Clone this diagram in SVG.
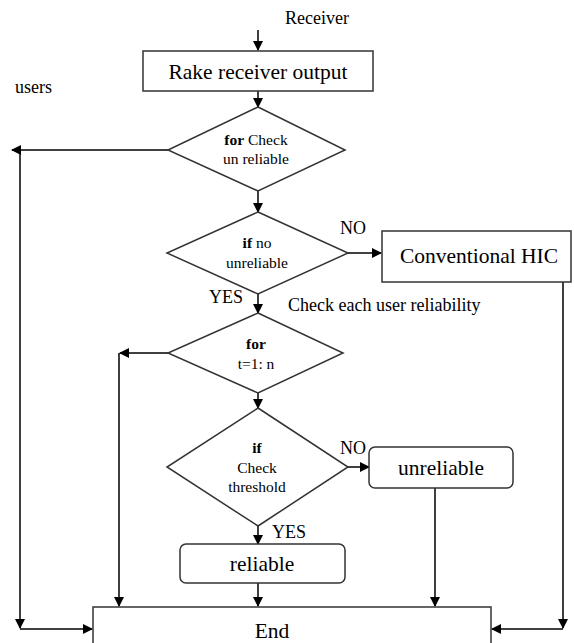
<svg xmlns="http://www.w3.org/2000/svg" width="574" height="643" viewBox="0 0 574 643">
<defs>
<marker id="ah" markerWidth="10" markerHeight="10" refX="9" refY="5" orient="auto" markerUnits="userSpaceOnUse">
<path d="M0,0 L10,5 L0,10 Z" fill="#000"/>
</marker>
<style>
.shape{fill:#fff;stroke:#333;stroke-width:1.5}
.ln{fill:none;stroke:#000;stroke-width:1.5}
text{font-family:"Liberation Serif","Times New Roman",serif;fill:#000}
.big{font-size:21.5px}
.mid{font-size:18px}
.sm{font-size:15.5px}
</style>
</defs>
<rect width="574" height="643" fill="#fff"/>
<g id="labels">
<text class="mid" x="285" y="24">Receiver</text>
<text class="mid" x="15" y="93">users</text>
<text class="mid" x="340" y="234">NO</text>
<text class="mid" x="209" y="303">YES</text>
<text class="mid" x="288" y="311">Check each user reliability</text>
<text class="mid" x="340" y="454">NO</text>
<text class="mid" x="272" y="538">YES</text>
</g>
<g id="connectors">
<line class="ln" x1="258" y1="30" x2="258" y2="50" marker-end="url(#ah)"/>
<line class="ln" x1="258" y1="91" x2="258" y2="107" marker-end="url(#ah)"/>
<polyline class="ln" points="168,150 12,150" marker-end="url(#ah)"/>
<polyline class="ln" points="20,150 20,628" marker-end="url(#ah)"/>
<polyline class="ln" points="20,629 92,629" marker-end="url(#ah)"/>
<line class="ln" x1="258" y1="191" x2="258" y2="212" marker-end="url(#ah)"/>
<line class="ln" x1="348" y1="253" x2="381" y2="253" marker-end="url(#ah)"/>
<line class="ln" x1="258" y1="294" x2="258" y2="313" marker-end="url(#ah)"/>
<polyline class="ln" points="168,353 120,353" marker-end="url(#ah)"/>
<polyline class="ln" points="119,353 119,606" marker-end="url(#ah)"/>
<line class="ln" x1="258" y1="393" x2="258" y2="408" marker-end="url(#ah)"/>
<line class="ln" x1="348" y1="467" x2="369" y2="467" marker-end="url(#ah)"/>
<line class="ln" x1="258" y1="526" x2="258" y2="544" marker-end="url(#ah)"/>
<line class="ln" x1="258" y1="583" x2="258" y2="606" marker-end="url(#ah)"/>
<line class="ln" x1="435" y1="488" x2="435" y2="606" marker-end="url(#ah)"/>
<polyline class="ln" points="563,282 563,628" marker-end="url(#ah)"/>
<polyline class="ln" points="563,629 492,629" marker-end="url(#ah)"/>
</g>
<g id="rake">
<rect class="shape" x="143" y="51" width="230" height="40"/>
<text class="big" x="258" y="79" text-anchor="middle">Rake receiver output</text>
</g>
<g id="d1">
<polygon class="shape" points="258,107 345,150 258,191 168,150"/>
<text class="sm" x="256" y="145" text-anchor="middle"><tspan font-weight="bold">for</tspan> Check</text>
<text class="sm" x="256" y="164" text-anchor="middle">un reliable</text>
</g>
<g id="d2">
<polygon class="shape" points="258,212 348,253 258,294 167,253"/>
<text class="sm" x="257" y="248" text-anchor="middle"><tspan font-weight="bold">if</tspan> no</text>
<text class="sm" x="257" y="268" text-anchor="middle">unreliable</text>
</g>
<g id="conv">
<rect class="shape" x="382" y="231" width="189" height="51"/>
<text class="big" x="479" y="263" text-anchor="middle">Conventional HIC</text>
</g>
<g id="d3">
<polygon class="shape" points="258,313 343,353 258,393 168,353"/>
<text class="sm" x="256" y="349" text-anchor="middle" font-weight="bold">for</text>
<text class="sm" x="256" y="369" text-anchor="middle">t=1: n</text>
</g>
<g id="d4">
<polygon class="shape" points="258,408 348,467 258,526 167,467"/>
<text class="sm" x="257" y="453" text-anchor="middle" font-weight="bold">if</text>
<text class="sm" x="257" y="473" text-anchor="middle">Check</text>
<text class="sm" x="257" y="492" text-anchor="middle">threshold</text>
</g>
<g id="unreliable">
<rect class="shape" x="369" y="447" width="144" height="41" rx="6"/>
<text class="big" x="441" y="475" text-anchor="middle">unreliable</text>
</g>
<g id="reliable">
<rect class="shape" x="180" y="544" width="165" height="39" rx="6"/>
<text class="big" x="262" y="571" text-anchor="middle">reliable</text>
</g>
<g id="end">
<rect class="shape" x="93" y="607" width="398" height="50"/>
<text class="big" x="272" y="638" text-anchor="middle">End</text>
</g>
</svg>
